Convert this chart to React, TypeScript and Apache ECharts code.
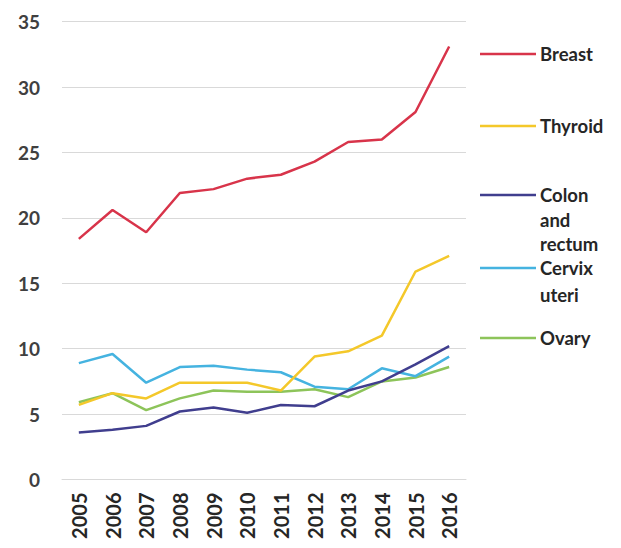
import React, { useEffect, useRef } from "react";
import * as echarts from "echarts";

const years = ["2005", "2006", "2007", "2008", "2009", "2010", "2011", "2012", "2013", "2014", "2015", "2016"];
const breast = [18.4, 20.6, 18.9, 21.9, 22.2, 23.0, 23.3, 24.3, 25.8, 26.0, 28.1, 33.1];
const thyroid = [5.7, 6.6, 6.2, 7.4, 7.4, 7.4, 6.8, 9.4, 9.8, 11.0, 15.9, 17.1];
const colon = [3.6, 3.8, 4.1, 5.2, 5.5, 5.1, 5.7, 5.6, 6.8, 7.5, 8.8, 10.2];
const cervix = [8.9, 9.6, 7.4, 8.6, 8.7, 8.4, 8.2, 7.1, 6.9, 8.5, 7.9, 9.4];
const ovary = [5.9, 6.6, 5.3, 6.2, 6.8, 6.7, 6.7, 6.9, 6.3, 7.5, 7.8, 8.6];
const yTicks = [0, 5, 10, 15, 20, 25, 30, 35];

const seriesNames = ["Breast", "Thyroid", "Colon and rectum", "Cervix uteri", "Ovary"];
const legendLabels = ["Breast", "Thyroid", "Colon\nand\nrectum", "Cervix\nuteri", "Ovary"];
const colors = ["#d8344a", "#f4c82a", "#403e8e", "#45b3e0", "#8dc45a"];
const seriesData = [breast, thyroid, colon, cervix, ovary];

const FONT = "Lato, 'Open Sans', sans-serif";

export default function App() {
  const ref = useRef<HTMLDivElement>(null);
  useEffect(() => {
    if (!ref.current) return;
    const chart = echarts.init(ref.current, undefined, { renderer: "svg" });
    const legendTops = [54, 126, 195, 268, 338];
    const lineHeights = [26, 26, 24.5, 27, 26];
    const graphic: any[] = [];
    legendLabels.forEach((lab, i) => {
      const LH = lineHeights[i];
      graphic.push({
        type: "line",
        shape: { x1: 480, y1: legendTops[i], x2: 536, y2: legendTops[i] },
        style: { stroke: colors[i], lineWidth: 2.5 },
      });
      graphic.push({
        type: "text",
        x: 540,
        y: legendTops[i] - LH / 2,
        style: {
          text: lab,
          fill: "#262626",
          font: `bold 18.5px ${FONT}`,
          lineHeight: LH,
          textVerticalAlign: "top",
        },
      });
    });
    chart.setOption({
      animation: false,
      backgroundColor: "#ffffff",
      grid: { left: 62, right: 155, top: 21.7, bottom: 68.5, containLabel: false },
      xAxis: {
        type: "category",
        data: years,
        boundaryGap: true,
        axisLine: { show: true, lineStyle: { color: "#d9d9d9", width: 1 } },
        axisTick: { show: false },
        axisLabel: {
          rotate: 90,
          margin: 13,
          color: "#262626",
          fontSize: 20,
          fontWeight: "bold",
          fontFamily: FONT,
        },
      },
      yAxis: {
        type: "value",
        min: 0,
        max: 35,
        interval: 5,
        axisLine: { show: false },
        axisTick: { show: false },
        splitLine: { lineStyle: { color: "#d9d9d9", width: 1 } },
        axisLabel: {
          margin: 22,
          color: "#404040",
          fontSize: 19,
          fontWeight: "bold",
          fontFamily: FONT,
          formatter: (v: number) => (yTicks.includes(v) ? String(v) : ""),
        },
      },
      series: seriesNames.map((name, i) => ({
        name,
        type: "line",
        data: seriesData[i],
        symbol: "none",
        lineStyle: { color: colors[i], width: 2.5 },
        itemStyle: { color: colors[i] },
        z: 10 - i,
      })),
      graphic,
    });
    return () => chart.dispose();
  }, []);
  return (
    <div
      ref={ref}
      style={{ position: "absolute", left: 0, top: 0, width: 621, height: 548 }}
    />
  );
}
